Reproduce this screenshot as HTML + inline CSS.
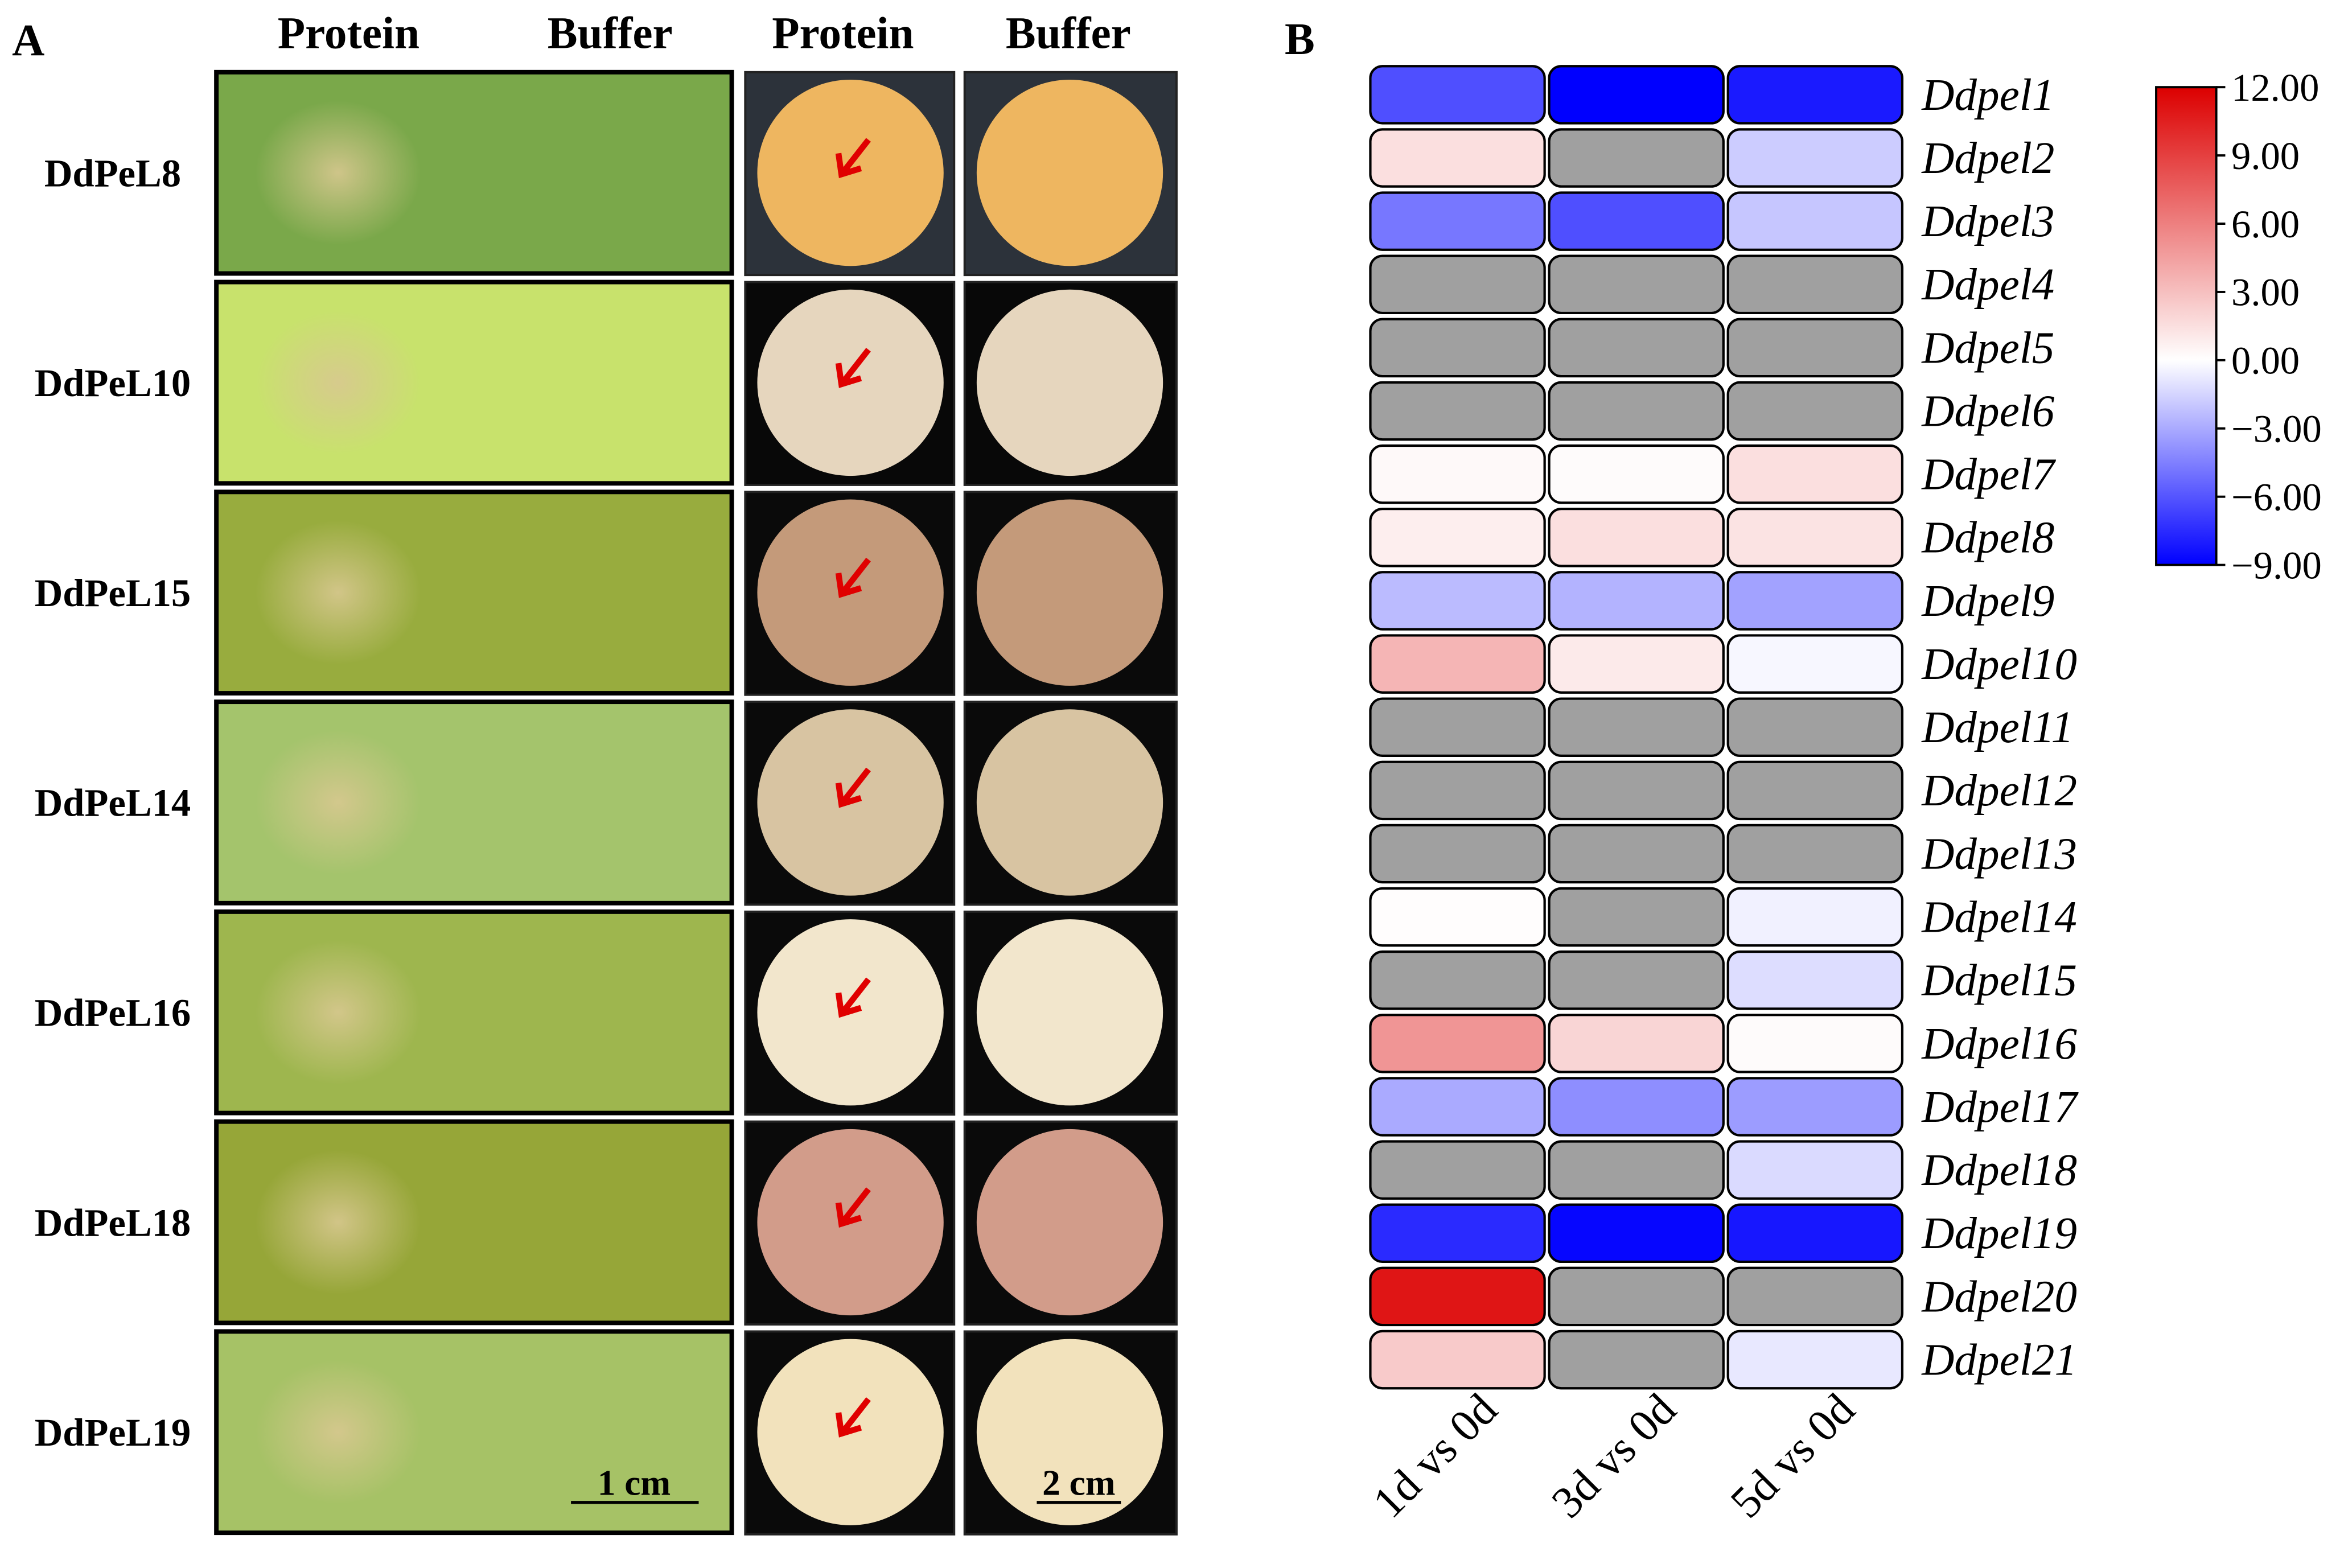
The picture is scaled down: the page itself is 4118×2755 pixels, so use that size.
<!DOCTYPE html>
<html><head><meta charset="utf-8"><style>
html,body{margin:0;padding:0;background:#fff;}
svg{display:block;}
text{font-family:"Liberation Serif",serif;}
</style></head><body>
<svg id="fig" width="4118" height="2755" viewBox="0 0 1560 1043.6" xmlns="http://www.w3.org/2000/svg">
<defs>
<linearGradient id="cbar" x1="0" y1="1" x2="0" y2="0">
<stop offset="0" stop-color="#0000ff"/><stop offset="0.4286" stop-color="#ffffff"/><stop offset="1" stop-color="#dc0000"/>
</linearGradient>
<radialGradient id="lesion" cx="0.5" cy="0.5" r="0.5"><stop offset="0" stop-color="#d8c890" stop-opacity="0.9"/><stop offset="1" stop-color="#d8c890" stop-opacity="0"/></radialGradient>
</defs>
<text x="8" y="37" font-size="30" font-weight="bold">A</text>
<text x="855" y="36" font-size="30" font-weight="bold">B</text>
<g font-size="30" font-weight="bold" text-anchor="middle">
<text x="232" y="32">Protein</text>
<text x="406" y="32">Buffer</text>
<text x="561" y="32">Protein</text>
<text x="711" y="32">Buffer</text>
</g>
<g id="panelA"></g>
<g id="heat"></g>
</svg>
<script>
const NS="http://www.w3.org/2000/svg";
function mk(tag,attrs,parent){const e=document.createElementNS(NS,tag);for(const k in attrs)e.setAttribute(k,attrs[k]);parent.appendChild(e);return e;}
// ---- Panel A (photos approximated) ----
const rowNames=["DdPeL8","DdPeL10","DdPeL15","DdPeL14","DdPeL16","DdPeL18","DdPeL19"];
const leafCols=["#7aa84a","#c8e26c","#98ac3e","#a4c46c","#9eb64e","#96a638","#a6c266"];
const tuberCols=["#eeb660","#e6d6be","#c49a7a","#d8c4a2","#f2e6cc","#d29c8a","#f2e2bc"];
const tuberBg=["#2c323a","#080808","#0a0a0a","#0a0a0a","#0a0a0a","#0a0a0a","#0a0a0a"];
const A=document.getElementById('panelA');
rowNames.forEach((n,i)=>{
  const y=48+i*139.7, h=134;
  const t=mk('text',{x:75,y:y+h/2+9,'font-size':26,'font-weight':'bold','text-anchor':'middle'},A);t.textContent=n;
  
  
  const leaf=mk('rect',{x:144,y:y,width:343,height:h,fill:leafCols[i],stroke:'#000','stroke-width':3},A);
  
  
  const les=mk('ellipse',{cx:225,cy:y+h/2,rx:55,ry:48,fill:'url(#lesion)'},A);
  
  
  [496,642].forEach((x,j)=>{
    const bg=mk('rect',{x:x,y:y,width:j?141:139,height:h+1,fill:tuberBg[i],stroke:'#222','stroke-width':1.5},A);
    
    
    const el=mk('ellipse',{cx:x+70,cy:y+h/2,rx:62,ry:62,fill:tuberCols[i]},A);
    
    
  });
  const ar=mk('path',{d:`M${578},${y+45} L${560},${y+68} m-2,-14 l2,14 l13,-4`,stroke:'#e00000','stroke-width':4,fill:'none'},A);
  
  
});
mk('line',{x1:380,y1:1000,x2:465,y2:1000,stroke:'#000','stroke-width':2},A);
const s1=mk('text',{x:422,y:995,'font-size':24,'font-weight':'bold','text-anchor':'middle'},A);s1.textContent='1 cm';


mk('line',{x1:690,y1:1000,x2:746,y2:1000,stroke:'#000','stroke-width':2},A);
const s2=mk('text',{x:718,y:995,'font-size':24,'font-weight':'bold','text-anchor':'middle'},A);s2.textContent='2 cm';



// ---- Panel B heatmap data ----
const genes=["Ddpel1","Ddpel2","Ddpel3","Ddpel4","Ddpel5","Ddpel6","Ddpel7","Ddpel8","Ddpel9","Ddpel10","Ddpel11","Ddpel12","Ddpel13","Ddpel14","Ddpel15","Ddpel16","Ddpel17","Ddpel18","Ddpel19","Ddpel20","Ddpel21"];
const comparisons=["1d vs 0d","3d vs 0d","5d vs 0d"];
const d1=[-6.2,1.5,-4.8,null,null,null,0.3,0.8,-2.4,3.5,null,null,null,0.1,null,5.0,-3.0,null,-7.5,11.0,2.5];
const d3=[-9.0,null,-6.2,null,null,null,0.2,1.5,-2.7,1.0,null,null,null,null,null,2.0,-4.0,null,-8.8,null,null];
const d5=[-8.1,-1.8,-2.0,null,null,null,1.5,1.3,-3.3,-0.3,null,null,null,-0.5,-1.2,0.2,-3.5,-1.3,-8.2,null,-0.8];
const tickLabels=["12.00","9.00","6.00","3.00","0.00","\u22123.00","\u22126.00","\u22129.00"];
const tickValues=[12,9,6,3,0,-3,-6,-9];
const vmin=-9,vmax=12;
function color(v){
  if(v===null)return '#a0a0a0';
  if(v<0){const f=Math.min(1,-v/9);const c=Math.round(255*(1-f));return `rgb(${c},${c},255)`;}
  const f=Math.min(1,v/12);return `rgb(${Math.round(255-35*f)},${Math.round(255*(1-f))},${Math.round(255*(1-f))})`;
}
const H=document.getElementById('heat');
const colX=i=>912+i*119, cellW=116, rowY=i=>44+i*42.1, cellH=38;
[d1,d3,d5].forEach((series,c)=>{
  series.forEach((v,r)=>{
    const rc=mk('rect',{x:colX(c),y:rowY(r),width:cellW,height:cellH,rx:8,ry:8,fill:color(v),stroke:'#000','stroke-width':1.6},H);
    
    
  });
});
genes.forEach((g,r)=>{
  const t=mk('text',{x:1279,y:rowY(r)+cellH/2+10,'font-size':30,'font-style':'italic'},H);t.textContent=g;
  
  
});
comparisons.forEach((c,i)=>{
  const cx=colX(i)+cellW/2+28, cy=940;
  const t=mk('text',{x:cx,y:cy,'font-size':30,'text-anchor':'end',transform:`rotate(-45 ${cx} ${cy})`},H);t.textContent=c;
  
  
});
// colorbar
const cbTop=58,cbBot=376,cbX=1435,cbW=40;
const cbY=v=>cbBot-(v-vmin)/(vmax-vmin)*(cbBot-cbTop);
const cb=mk('rect',{x:cbX,y:cbTop,width:cbW,height:cbBot-cbTop,fill:'url(#cbar)',stroke:'#000','stroke-width':1.5},H);


tickValues.forEach((v,i)=>{
  mk('line',{x1:cbX+cbW,y1:cbY(v),x2:cbX+cbW+6,y2:cbY(v),stroke:'#000','stroke-width':1.5},H);
  const t=mk('text',{x:cbX+cbW+10,y:cbY(v)+9,'font-size':26},H);t.textContent=tickLabels[i];
  
  
});
</script>
</body></html>
